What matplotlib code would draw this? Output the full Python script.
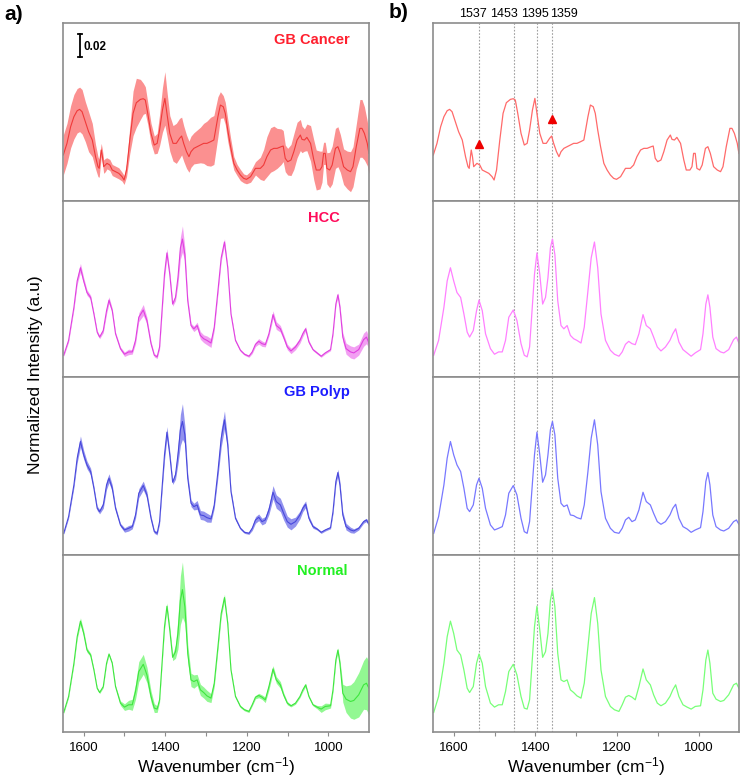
import matplotlib
matplotlib.use('Agg')
import matplotlib.pyplot as plt
import numpy as np

plt.rcParams['font.family'] = ['Liberation Sans', 'DejaVu Sans']
plt.rcParams['mathtext.fontset'] = 'custom'
plt.rcParams['mathtext.rm'] = 'Liberation Sans'
plt.rcParams['mathtext.it'] = 'Liberation Sans:italic'
plt.rcParams['mathtext.bf'] = 'Liberation Sans:bold'
plt.rcParams['mathtext.default'] = 'regular'

# ---------------- data (intensity in 1e-3 a.u.) ----------------
wavenumber = [1649, 1637, 1624, 1616, 1608, 1600, 1592, 1583, 1575, 1567,
              1561, 1552, 1544, 1538, 1530, 1522, 1510, 1500, 1490, 1481,
              1473, 1465, 1454, 1445, 1435, 1427, 1420, 1414, 1408, 1402,
              1396, 1389, 1382, 1375, 1369, 1363, 1358, 1352, 1345, 1337,
              1330, 1322, 1314, 1306, 1298, 1288, 1280, 1271, 1263, 1255,
              1247, 1239, 1228, 1216, 1206, 1195, 1187, 1179, 1171, 1163,
              1155, 1146, 1136, 1128, 1118, 1110, 1101, 1092, 1081, 1070,
              1063, 1056, 1048, 1038, 1028, 1018, 1008, 995, 989, 982,
              977, 972, 965, 957, 946, 938, 926, 914, 907, 901]

hcc_mean = [19.8, 33.3, 63.3, 87.3, 99.3, 87.3, 76.8, 72.3, 57.3, 40.8,
            36.3, 42.3, 60.3, 69.9, 60.3, 39.3, 25.8, 20.7, 22.8, 22.8,
            33.3, 54.3, 60.9, 51.3, 30.3, 19.8, 18.3, 27.3, 60.3, 93.3,
            112.8, 93.3, 66.3, 72.3, 90.3, 117.3, 125.4, 111.3, 69.3, 46.8,
            43.8, 46.8, 37.8, 34.8, 33.3, 30.9, 45.3, 78.3, 108.3, 122.7,
            99.3, 57.3, 33.3, 24.3, 20.7, 18.9, 22.8, 29.7, 32.4, 30.3,
            29.4, 39.3, 56.7, 46.8, 43.8, 36.3, 27.3, 23.7, 27.3, 33.3,
            39.3, 43.8, 31.8, 24.9, 21.9, 18.9, 21.9, 24.9, 39.3, 66.3,
            74.7, 63.3, 36.3, 25.8, 22.8, 21.9, 24.9, 33.9, 36.3, 30.9]
hcc_sd = [1, 1.5, 2, 3, 4, 3, 2.5, 2, 1.5, 1.5,
          1.5, 2, 3, 3, 2, 1.5, 1.5, 2, 2.5, 2,
          3, 4, 5, 3, 2, 1.5, 1.5, 2, 3, 4,
          4, 3, 2, 3, 6, 10, 12, 6, 3, 2,
          2.5, 3, 3.5, 3.5, 4, 4, 3, 3, 3, 3,
          2, 1.5, 1, 1, 1, 1, 1.5, 2, 2.5, 2.5,
          2, 2, 3.5, 3.5, 3, 2.5, 2.5, 2.5, 2.5, 2.5,
          2.5, 2, 1.5, 1, 1, 1, 1, 1, 1.5, 2,
          2, 2.5, 4, 5, 5.5, 5.5, 5, 6, 6, 5]

polyp_mean = [19.5, 34.5, 63.0, 87.0, 102.0, 90.0, 81.0, 75.0, 60.0, 42.0,
              39.0, 45.0, 63.0, 69.0, 60.0, 42.0, 27.0, 22.5, 24.0, 25.5,
              36.0, 55.5, 62.4, 54.0, 33.0, 21.0, 19.5, 30.0, 60.0, 90.0,
              110.4, 90.0, 65.4, 72.0, 90.0, 112.5, 120.0, 108.0, 69.0, 46.5,
              43.5, 45.0, 36.0, 35.4, 33.6, 32.4, 45.0, 75.0, 105.0, 121.5,
              99.0, 57.0, 33.0, 24.0, 20.4, 19.5, 24.0, 31.5, 33.9, 30.0,
              31.5, 40.5, 56.4, 48.0, 45.0, 37.5, 30.0, 27.6, 30.0, 36.0,
              42.0, 45.6, 33.0, 25.5, 23.4, 20.4, 22.5, 24.6, 39.0, 66.0,
              74.1, 63.0, 36.0, 25.5, 22.5, 21.6, 24.0, 30.0, 31.5, 27.6]
polyp_sd = [1, 1.5, 2.5, 4, 5, 4, 3.5, 3, 2, 2,
            2, 3, 4, 4, 3, 2, 1.5, 2, 2.5, 2,
            3, 4, 4, 3, 2, 1.5, 1.5, 2, 3, 5,
            5, 3, 2, 4, 8, 14, 16, 8, 4, 3,
            3, 4, 4, 4, 4, 3, 3, 5, 8, 8,
            4, 2, 1.5, 1, 1, 1, 2, 3, 3, 3,
            3, 4, 6, 6, 6, 6, 5, 5, 4, 3.5,
            3, 3, 2, 1.5, 1, 1, 1, 1, 2, 3,
            3, 3, 3, 3, 2.5, 2, 1.5, 1.5, 1.5, 1.5]

normal_mean = [17.7, 32.1, 62.1, 86.1, 100.2, 89.1, 74.1, 69.6, 56.1, 39.6,
               35.7, 41.1, 62.1, 70.5, 62.1, 41.1, 26.1, 22.5, 24.6, 24.6,
               36.6, 54.6, 61.2, 51.6, 32.1, 21.6, 20.7, 29.1, 62.1, 95.1,
               113.7, 92.1, 67.5, 72.6, 89.1, 119.1, 128.7, 113.1, 71.1, 47.1,
               45.6, 47.1, 38.1, 35.7, 32.7, 30.6, 44.1, 77.1, 107.1, 121.5,
               98.1, 56.1, 32.1, 23.1, 20.1, 18.6, 24.6, 31.5, 33.0, 31.5,
               29.1, 41.1, 57.0, 47.1, 42.6, 33.6, 26.1, 23.7, 26.1, 32.1,
               38.1, 42.6, 32.1, 24.6, 22.5, 20.7, 23.1, 23.7, 38.1, 65.1,
               74.1, 62.1, 35.1, 29.7, 27.6, 28.5, 33.6, 42.6, 44.1, 39.6]
normal_sd = [1, 1, 1.5, 2, 3, 2.5, 2, 1.5, 1, 1,
             1, 1, 1, 1, 1, 1, 2, 3, 4, 5,
             7, 9, 9, 7, 5, 4, 3, 2, 2, 3,
             3, 3, 3, 6, 14, 22, 25, 15, 8, 6,
             6, 5, 5, 5, 5, 4, 3, 3, 3, 3,
             2, 1, 1, 1, 1, 1, 1, 1.5, 2, 2,
             2.5, 3, 3, 3, 3, 2, 1.5, 1, 1, 1,
             1.5, 1.5, 1, 1, 1.5, 3, 3, 2, 2, 2,
             2, 3, 8, 12, 15, 17, 20, 22, 24, 24]

cancer_wavenumber = [1650, 1641, 1632, 1624, 1616, 1610, 1604, 1596, 1588, 1579,
                     1571, 1565, 1562, 1559, 1557, 1554, 1551, 1547, 1543, 1536,
                     1530, 1522, 1514, 1506, 1501, 1495, 1487, 1479, 1471, 1461,
                     1454, 1449, 1443, 1435, 1427, 1420, 1414, 1407, 1401, 1396,
                     1389, 1381, 1373, 1365, 1360, 1355, 1348, 1342, 1337, 1330,
                     1322, 1314, 1306, 1298, 1289, 1281, 1271, 1265, 1258, 1253,
                     1247, 1240, 1232, 1224, 1216, 1208, 1201, 1191, 1179, 1167,
                     1159, 1151, 1142, 1134, 1126, 1116, 1111, 1106, 1100, 1092,
                     1085, 1077, 1069, 1065, 1059, 1053, 1044, 1036, 1030, 1021,
                     1016, 1012, 1008, 1004, 997, 991, 983, 977, 971, 963,
                     954, 946, 940, 932, 923, 918, 912, 905, 901]
cancer_mean = [41.4, 51.9, 66.9, 75.9, 81.3, 82.5, 80.4, 71.4, 62.4, 54.9,
               39.9, 30.9, 29.4, 39.9, 45.9, 39.9, 30.9, 32.4, 33.9, 32.4,
               27.9, 26.4, 24.9, 21.9, 18.9, 27.9, 54.9, 78.9, 88.5, 91.5,
               92.1, 90.9, 78.9, 60.9, 50.4, 51.9, 63.9, 81.9, 92.4, 78.9,
               60.9, 51.9, 51.9, 56.4, 58.5, 51.9, 44.4, 39.9, 44.4, 47.4,
               48.9, 50.4, 51.9, 51.9, 53.4, 54.9, 75.9, 86.4, 84.9, 78.9,
               63.9, 48.9, 33.9, 27.9, 23.4, 20.4, 19.5, 21.9, 29.4, 29.4,
               32.4, 39.9, 45.9, 47.4, 47.4, 48.9, 49.5, 38.4, 35.4, 36.9,
               44.4, 54.9, 59.4, 55.5, 54.9, 57.3, 51.9, 36.9, 27.9, 27.9,
               30.9, 42.9, 42.9, 29.4, 27.9, 32.4, 47.4, 48.9, 42.9, 30.9,
               27.9, 26.4, 30.9, 48.9, 65.4, 65.4, 60.9, 51.9, 42.9]
cancer_sd = [18, 18, 19, 20, 20, 20, 20, 18, 18, 15,
             11, 9, 8, 7, 6, 6, 6, 6, 5, 5,
             5, 5, 5, 4, 4, 6, 12, 20, 22, 18,
             14, 12, 10, 9, 8, 9, 14, 20, 24, 20,
             16, 16, 18, 18, 17, 16, 15, 14, 14, 14,
             15, 16, 18, 20, 22, 22, 18, 12, 10, 10,
             10, 8, 6, 5, 5, 4, 4, 5, 6, 10,
             14, 18, 20, 20, 18, 16, 14, 12, 12, 14,
             16, 16, 14, 12, 10, 12, 16, 18, 18, 17,
             14, 10, 10, 14, 16, 17, 18, 18, 17, 16,
             17, 18, 18, 20, 26, 26, 24, 20, 18]

group_names = ['GB Cancer', 'HCC', 'GB Polyp', 'Normal']
peak_positions = [1537, 1453, 1395, 1359]
marker_wavenumber = [1537, 1359]
marker_intensity = [51.3, 73.8]
scale_bar_value = 20  # = 0.02 a.u.

# ---------------- styling ----------------
W, H = 741, 780
fig = plt.figure(figsize=(W / 100, H / 100), dpi=100)
edges = [23.3, 201, 377, 555, 732]
cols = [(63.3, 369.3), (433.3, 739.3)]

series = [
    (cancer_wavenumber, cancer_mean, cancer_sd),
    (wavenumber, hcc_mean, hcc_sd),
    (wavenumber, polyp_mean, polyp_sd),
    (wavenumber, normal_mean, normal_sd),
]
line_left = ['#f03a3a', '#e040e0', '#4848dc', '#3ee63e']
band_col = ['#fb8a8a', '#f29af2', '#8c8cee', '#8cf88c']
line_right = ['#ff6a6a', '#ff80ff', '#7878ff', '#78ff78']
label_col = ['#ff1f2e', '#ff0a5a', '#1c1cff', '#22f022']
label_pos = [(0.935, 0.905), (0.905, 0.905), (0.935, 0.915), (0.928, 0.91)]

spine_c = '#8c8c8c'

def make_ax(col, row):
    x0, x1 = cols[col]
    y0, y1 = edges[row], edges[row + 1]
    ax = fig.add_axes([x0 / W, 1 - y1 / H, (x1 - x0) / W, (y1 - y0) / H])
    ax.set_xlim(1650, 900)
    ax.set_ylim(0, 160)
    ax.set_yticks([])
    for s in ax.spines.values():
        s.set_color(spine_c)
        s.set_linewidth(1.2)
    ax.set_xticks([1600, 1400, 1200, 1000])
    ax.set_xticks([1600, 1500, 1400, 1300, 1200, 1100, 1000], minor=True)
    if row < 3:
        ax.tick_params(axis='x', which='both', bottom=False, labelbottom=False)
    else:
        ax.tick_params(axis='x', which='both', direction='out', length=3,
                       width=0.8, color=spine_c, labelsize=9.5, pad=4)
    return ax

for i, (wn, m, sd) in enumerate(series):
    wn = np.array(wn); m = np.array(m); sd = np.array(sd)
    # left column: mean +/- sd
    ax = make_ax(0, i)
    ax.fill_between(wn, m - sd, m + sd, color=band_col[i], lw=0, alpha=0.95)
    ax.plot(wn, m, color=line_left[i], lw=0.8)
    ax.text(label_pos[i][0], label_pos[i][1], group_names[i], transform=ax.transAxes,
            ha='right', va='center', fontsize=10.5, fontweight='bold', color=label_col[i])
    if i == 0:
        bx = 1609
        ax.plot([bx, bx], [130, 130 + scale_bar_value], color='black', lw=1.3)
        ax.plot([bx - 4, bx + 4], [130, 130], color='black', lw=1.3)
        ax.plot([bx - 4, bx + 4], [130 + scale_bar_value, 130 + scale_bar_value],
                color='black', lw=1.3)
        ax.text(bx - 8, 130 + scale_bar_value / 2 - 1, '0.02', ha='left', va='center',
                fontsize=8.5, fontweight='bold')

    # right column: mean only
    axr = make_ax(1, i)
    for p in peak_positions:
        axr.axvline(p, color='#a0a0a0', lw=0.8, ls=(0, (1.5, 1.5)), zorder=1)
    axr.plot(wn, m, color=line_right[i], lw=0.9, zorder=2)
    if i == 0:
        axr.plot(marker_wavenumber, marker_intensity, ls='none', marker='^',
                 ms=5.5, color='#ee0000', zorder=3)
        label_x = [1553, 1477, 1401, 1330]
        for lx, p in zip(label_x, peak_positions):
            axr.text(lx, 1.018, str(p), transform=axr.get_xaxis_transform(),
                     ha='center', va='bottom', fontsize=9)

for (x0, x1) in cols:
    fig.text((x0 + x1) / 2 / W, 1 - 767 / H, 'Wavenumber (cm$^{-1}$)',
             ha='center', va='center', fontsize=12.5)

fig.text(36 / W, 1 - 375 / H, 'Normalized Intensity (a.u)', rotation=90,
         ha='center', va='center', fontsize=12.5)
fig.text(14 / W, 1 - 15 / H, 'a)', ha='center', va='center', fontsize=15, fontweight='bold')
fig.text(399 / W, 1 - 13 / H, 'b)', ha='center', va='center', fontsize=15, fontweight='bold')

fig.savefig('out.png', dpi=100)
